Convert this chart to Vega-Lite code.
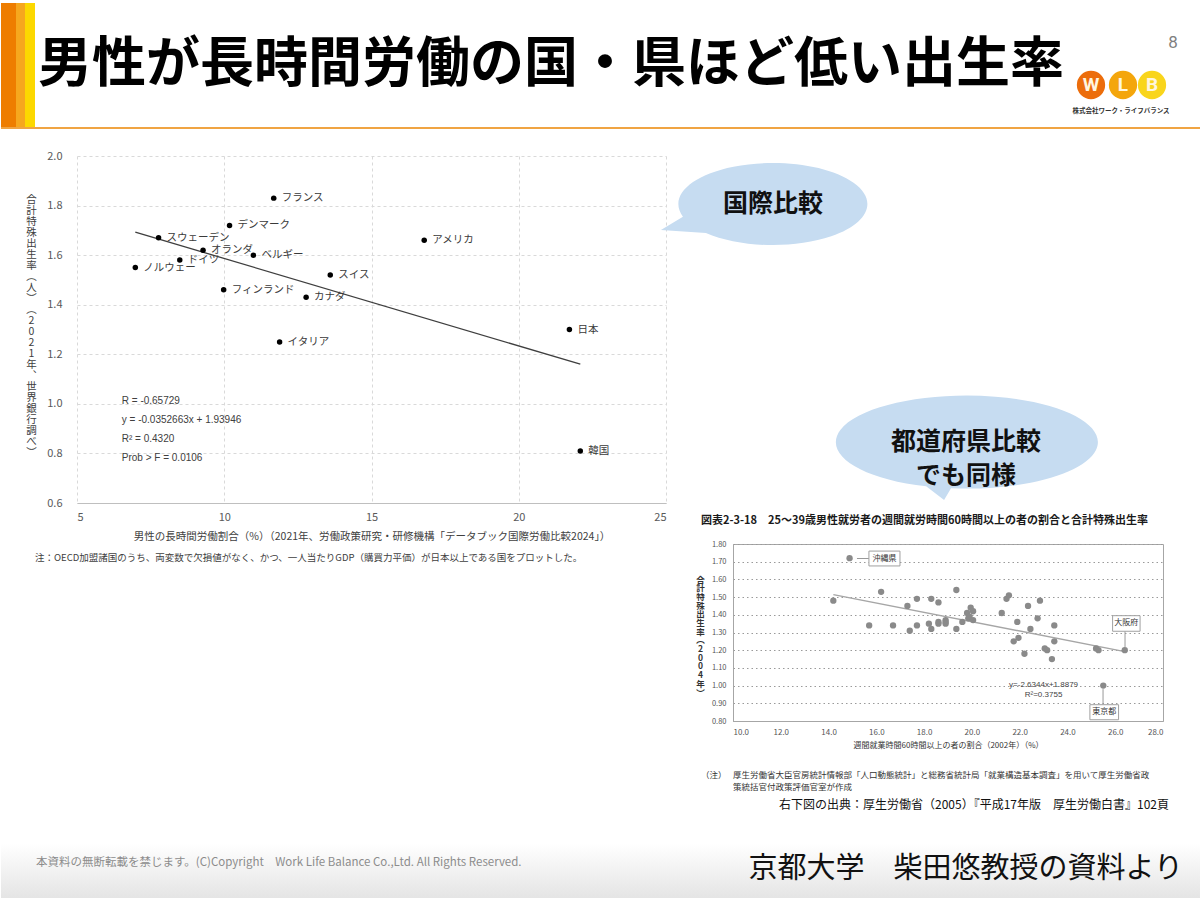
{
  "$schema": "https://vega.github.io/schema/vega-lite/v6.json",
  "padding": 0,
  "background": "white",
  "bounds": "flush",
  "align": "each",
  "columns": 3,
  "spacing": {"row": 28, "column": 67},
  "config": {
    "view": {"stroke": null},
    "font": "Noto Sans CJK JP",
    "axis": {"labelFont": "Noto Sans CJK JP", "titleFont": "Noto Sans CJK JP"},
    "title": {"font": "Noto Sans CJK JP"}
  },
  "datasets": {
    "oecd": [
      {"country": "フランス", "hours": 11.68, "tfr": 1.83},
      {"country": "デンマーク", "hours": 10.18, "tfr": 1.72},
      {"country": "スウェーデン", "hours": 7.77, "tfr": 1.67},
      {"country": "オランダ", "hours": 9.28, "tfr": 1.62},
      {"country": "ベルギー", "hours": 10.99, "tfr": 1.60},
      {"country": "ドイツ", "hours": 8.49, "tfr": 1.58},
      {"country": "ノルウェー", "hours": 6.98, "tfr": 1.55},
      {"country": "フィンランド", "hours": 9.98, "tfr": 1.46},
      {"country": "スイス", "hours": 13.6, "tfr": 1.52},
      {"country": "カナダ", "hours": 12.78, "tfr": 1.43},
      {"country": "イタリア", "hours": 11.88, "tfr": 1.25},
      {"country": "アメリカ", "hours": 16.79, "tfr": 1.66},
      {"country": "日本", "hours": 21.72, "tfr": 1.30},
      {"country": "韓国", "hours": 22.09, "tfr": 0.81}
    ],
    "oecdFit": [
      {"hours": 6.98, "tfr": 1.693},
      {"hours": 22.09, "tfr": 1.160}
    ],
    "pref": [
      {"pref": "沖縄県", "share": 14.88, "tfr": 1.72},
      {"pref": "", "share": 14.2, "tfr": 1.48},
      {"pref": "", "share": 15.7, "tfr": 1.34},
      {"pref": "", "share": 16.2, "tfr": 1.53},
      {"pref": "", "share": 16.7, "tfr": 1.34},
      {"pref": "", "share": 17.3, "tfr": 1.45},
      {"pref": "", "share": 17.4, "tfr": 1.31},
      {"pref": "", "share": 17.7, "tfr": 1.49},
      {"pref": "", "share": 17.7, "tfr": 1.34},
      {"pref": "", "share": 18.2, "tfr": 1.35},
      {"pref": "", "share": 18.3, "tfr": 1.49},
      {"pref": "", "share": 18.3, "tfr": 1.32},
      {"pref": "", "share": 18.6, "tfr": 1.47},
      {"pref": "", "share": 18.6, "tfr": 1.35},
      {"pref": "", "share": 18.6, "tfr": 1.36},
      {"pref": "", "share": 18.9, "tfr": 1.37},
      {"pref": "", "share": 18.9, "tfr": 1.36},
      {"pref": "", "share": 18.9, "tfr": 1.35},
      {"pref": "", "share": 19.35, "tfr": 1.54},
      {"pref": "", "share": 19.35, "tfr": 1.32},
      {"pref": "", "share": 19.6, "tfr": 1.36},
      {"pref": "", "share": 19.8, "tfr": 1.41},
      {"pref": "", "share": 19.95, "tfr": 1.44},
      {"pref": "", "share": 20.05, "tfr": 1.42},
      {"pref": "", "share": 19.85, "tfr": 1.38},
      {"pref": "", "share": 19.9, "tfr": 1.39},
      {"pref": "", "share": 20.05, "tfr": 1.37},
      {"pref": "", "share": 21.25, "tfr": 1.41},
      {"pref": "", "share": 21.45, "tfr": 1.49},
      {"pref": "", "share": 21.55, "tfr": 1.51},
      {"pref": "", "share": 21.9, "tfr": 1.36},
      {"pref": "", "share": 21.75, "tfr": 1.25},
      {"pref": "", "share": 21.95, "tfr": 1.27},
      {"pref": "", "share": 22.2, "tfr": 1.18},
      {"pref": "", "share": 22.35, "tfr": 1.45},
      {"pref": "", "share": 22.45, "tfr": 1.32},
      {"pref": "", "share": 22.75, "tfr": 1.38},
      {"pref": "", "share": 22.85, "tfr": 1.48},
      {"pref": "", "share": 23.05, "tfr": 1.21},
      {"pref": "", "share": 23.15, "tfr": 1.20},
      {"pref": "", "share": 23.35, "tfr": 1.15},
      {"pref": "", "share": 23.45, "tfr": 1.34},
      {"pref": "", "share": 23.45, "tfr": 1.25},
      {"pref": "", "share": 25.2, "tfr": 1.21},
      {"pref": "", "share": 25.3, "tfr": 1.20},
      {"pref": "大阪府", "share": 26.4, "tfr": 1.20},
      {"pref": "東京都", "share": 25.5, "tfr": 1.00}
    ],
    "prefFit": [
      {"share": 14.2, "tfr": 1.514},
      {"share": 26.4, "tfr": 1.192}
    ]
  },
  "concat": [
    {
      "width": 9,
      "height": 125,
      "layer": [
        {
          "data": {"values": [{}]},
          "mark": {"type": "rect", "color": "#ee7d00"},
          "encoding": {
            "x": {"datum": 0, "type": "quantitative", "scale": {"domain": [0, 9], "nice": false, "zero": false}, "axis": null},
            "x2": {"datum": 15},
            "y": {"datum": 0, "type": "quantitative", "scale": {"domain": [0, 125], "nice": false, "zero": false, "reverse": true}, "axis": null},
            "y2": {"datum": 125}
          }
        },
        {
          "data": {"values": [{}]},
          "mark": {"type": "rect", "color": "#f6a71e"},
          "encoding": {
            "x": {"datum": 15, "type": "quantitative"},
            "x2": {"datum": 24},
            "y": {"datum": 0, "type": "quantitative"},
            "y2": {"datum": 125}
          }
        },
        {
          "data": {"values": [{}]},
          "mark": {"type": "rect", "color": "#fcd800"},
          "encoding": {
            "x": {"datum": 24, "type": "quantitative"},
            "x2": {"datum": 34},
            "y": {"datum": 0, "type": "quantitative"},
            "y2": {"datum": 125}
          }
        },
        {
          "data": {"values": [{}]},
          "mark": {"type": "rule", "color": "#f0a443", "strokeWidth": 2},
          "encoding": {
            "x": {"datum": 0, "type": "quantitative"},
            "x2": {"datum": 1200},
            "y": {"datum": 125, "type": "quantitative"}
          }
        },
        {
          "data": {"values": [{}]},
          "mark": {"type": "text", "text": "男性が長時間労働の国・県ほど低い出生率", "fontSize": 54, "fontWeight": "bold", "align": "left", "baseline": "alphabetic", "color": "#000000"},
          "encoding": {
            "x": {"datum": 37, "type": "quantitative"},
            "y": {"datum": 79, "type": "quantitative"}
          }
        },
        {
          "data": {"values": [{}]},
          "mark": {"type": "text", "text": "8", "fontSize": 17, "font": "Roboto", "align": "center", "baseline": "middle", "color": "#7f7f7f"},
          "encoding": {
            "x": {"datum": 1172, "type": "quantitative"},
            "y": {"datum": 40, "type": "quantitative"}
          }
        },
        {
          "data": {"values": [{}]},
          "mark": {"type": "circle", "size": 800, "color": "#ec6d0b", "opacity": 1},
          "encoding": {
            "x": {"datum": 1090, "type": "quantitative"},
            "y": {"datum": 82, "type": "quantitative"}
          }
        },
        {
          "data": {"values": [{}]},
          "mark": {"type": "circle", "size": 800, "color": "#f4a60c", "opacity": 1},
          "encoding": {
            "x": {"datum": 1122, "type": "quantitative"},
            "y": {"datum": 82, "type": "quantitative"}
          }
        },
        {
          "data": {"values": [{}]},
          "mark": {"type": "circle", "size": 800, "color": "#f9d51c", "opacity": 1},
          "encoding": {
            "x": {"datum": 1151, "type": "quantitative"},
            "y": {"datum": 82, "type": "quantitative"}
          }
        },
        {
          "data": {"values": [{}]},
          "mark": {"type": "text", "text": "W", "fontSize": 19, "fontWeight": "bold", "font": "Roboto", "align": "center", "baseline": "middle", "color": "#fff6e0"},
          "encoding": {
            "x": {"datum": 1090, "type": "quantitative"},
            "y": {"datum": 82, "type": "quantitative"}
          }
        },
        {
          "data": {"values": [{}]},
          "mark": {"type": "text", "text": "L", "fontSize": 19, "fontWeight": "bold", "font": "Roboto", "align": "center", "baseline": "middle", "color": "#fff6e0"},
          "encoding": {
            "x": {"datum": 1122, "type": "quantitative"},
            "y": {"datum": 82, "type": "quantitative"}
          }
        },
        {
          "data": {"values": [{}]},
          "mark": {"type": "text", "text": "B", "fontSize": 19, "fontWeight": "bold", "font": "Roboto", "align": "center", "baseline": "middle", "color": "#fff6e0"},
          "encoding": {
            "x": {"datum": 1151, "type": "quantitative"},
            "y": {"datum": 82, "type": "quantitative"}
          }
        },
        {
          "data": {"values": [{}]},
          "mark": {"type": "text", "text": "株式会社ワーク・ライフバランス", "fontSize": 6.5, "fontWeight": "bold", "align": "center", "baseline": "middle", "color": "#333333"},
          "encoding": {
            "x": {"datum": 1120, "type": "quantitative"},
            "y": {"datum": 108, "type": "quantitative"}
          }
        }
      ]
    },
    {"width": 589, "height": 1, "data": {"values": [{}]}, "mark": {"type": "point", "opacity": 0}},
    {"width": 430, "height": 1, "data": {"values": [{}]}, "mark": {"type": "point", "opacity": 0}},

    {"width": 9, "height": 1, "data": {"values": [{}]}, "mark": {"type": "point", "opacity": 0}},
    {
      "width": 589,
      "height": 347,
      "layer": [
        {
          "data": {"name": "oecdFit"},
          "mark": {"type": "line", "color": "#3f3f3f", "strokeWidth": 1.3},
          "encoding": {
            "x": {
              "field": "hours", "type": "quantitative",
              "scale": {"domain": [5, 25], "nice": false, "zero": false},
              "axis": {
                "values": [5, 10, 15, 20, 25], "tickCount": 5, "format": "d",
                "title": "男性の長時間労働割合（%）（2021年、労働政策研究・研修機構「データブック国際労働比較2024」）",
                "grid": true, "gridColor": "#d9d9d9", "gridDash": [3, 3], "gridWidth": 1,
                "ticks": false, "domain": true, "domainColor": "#bfbfbf",
                "labelColor": "#595959", "labelFontSize": 11, "labelPadding": 8,
                "titleFontSize": 10.5, "titleFontWeight": "normal", "titleColor": "#404040", "titlePadding": 9
              }
            },
            "y": {
              "field": "tfr", "type": "quantitative",
              "scale": {"domain": [0.6, 2.0], "nice": false, "zero": false},
              "axis": {
                "values": [0.6, 0.8, 1.0, 1.2, 1.4, 1.6, 1.8, 2.0], "tickCount": 8, "format": ".1f",
                "title": ["合", "計", "特", "殊", "出", "生", "率", "︵", "人", "︶", "︵", "2", "0", "2", "1", "年", "︑", "世", "界", "銀", "行", "調", "べ", "︶"],
                "titleAngle": 0, "titleAlign": "center", "titleBaseline": "top",
                "titleX": -46, "titleY": 38, "titleLineHeight": 11,
                "titleFontSize": 10.5, "titleFontWeight": "normal", "titleColor": "#404040",
                "grid": true, "gridColor": "#d9d9d9", "gridDash": [3, 3], "gridWidth": 1,
                "ticks": false, "domain": false, "labelOverlap": false,
                "labelColor": "#595959", "labelFontSize": 11, "labelPadding": 15
              }
            }
          }
        },
        {
          "data": {"name": "oecd"},
          "mark": {"type": "circle", "size": 30, "color": "#000000", "opacity": 1},
          "encoding": {
            "x": {"field": "hours", "type": "quantitative"},
            "y": {"field": "tfr", "type": "quantitative"}
          }
        },
        {
          "data": {"name": "oecd"},
          "mark": {"type": "text", "align": "left", "baseline": "middle", "dx": 8, "fontSize": 10.5, "color": "#3a3a3a"},
          "encoding": {
            "x": {"field": "hours", "type": "quantitative"},
            "y": {"field": "tfr", "type": "quantitative"},
            "text": {"field": "country"}
          }
        },
        {
          "data": {"values": [{}]},
          "mark": {"type": "text", "text": ["R = -0.65729", "y = -0.0352663x + 1.93946", "R² = 0.4320", "Prob > F = 0.0106"], "lineHeight": 19, "align": "left", "baseline": "top", "fontSize": 10, "font": "Liberation Sans", "color": "#404040"},
          "encoding": {
            "x": {"datum": 6.52, "type": "quantitative"},
            "y": {"datum": 1.033, "type": "quantitative"}
          }
        },
        {
          "data": {"values": [{}]},
          "mark": {"type": "text", "text": "注：OECD加盟諸国のうち、両変数で欠損値がなく、かつ、一人当たりGDP（購買力平価）が日本以上である国をプロットした。", "align": "left", "baseline": "middle", "fontSize": 9.5, "color": "#404040"},
          "encoding": {
            "x": {"datum": 3.574, "type": "quantitative"},
            "y": {"datum": 0.378, "type": "quantitative"}
          }
        },
        {
          "data": {"values": [{}]},
          "mark": {"type": "point", "shape": "M-0.952,0.133L-1.185,0.275L-0.709,0.306A1,0.434 0 1,0 -0.952,0.133Z", "size": 35721, "filled": true, "color": "#c6dcf1", "opacity": 1, "strokeWidth": 0},
          "encoding": {
            "x": {"datum": 28.63, "type": "quantitative"},
            "y": {"datum": 1.806, "type": "quantitative"}
          }
        },
        {
          "data": {"values": [{}]},
          "mark": {"type": "text", "text": "国際比較", "fontSize": 25, "fontWeight": "bold", "align": "center", "baseline": "middle", "color": "#111111"},
          "encoding": {
            "x": {"datum": 28.63, "type": "quantitative"},
            "y": {"datum": 1.806, "type": "quantitative"}
          }
        },
        {
          "data": {"values": [{}]},
          "mark": {"type": "point", "shape": "M-0.115,0.353L-0.168,0.443L-0.305,0.338A1,0.355 0 1,1 -0.115,0.353Z", "size": 68644, "filled": true, "color": "#c6dcf1", "opacity": 1, "strokeWidth": 0},
          "encoding": {
            "x": {"datum": 35.19, "type": "quantitative"},
            "y": {"datum": 0.846, "type": "quantitative"}
          }
        },
        {
          "data": {"values": [{}]},
          "mark": {"type": "text", "text": ["都道府県比較", "でも同様"], "lineHeight": 34, "fontSize": 25, "fontWeight": "bold", "align": "center", "baseline": "middle", "color": "#111111"},
          "encoding": {
            "x": {"datum": 35.19, "type": "quantitative"},
            "y": {"datum": 0.846, "type": "quantitative"}
          }
        }
      ]
    },
    {"width": 430, "height": 360, "data": {"values": [{}]}, "mark": {"type": "point", "opacity": 0}},

    {"width": 9, "height": 1, "data": {"values": [{}]}, "mark": {"type": "point", "opacity": 0}},
    {"width": 589, "height": 1, "data": {"values": [{}]}, "mark": {"type": "point", "opacity": 0}},
    {
      "width": 430,
      "height": 177,
      "view": {"stroke": "#a6a6a6", "strokeWidth": 1},
      "title": {"text": "図表2-3-18　25～39歳男性就労者の週間就労時間60時間以上の者の割合と合計特殊出生率", "anchor": "start", "frame": "group", "dx": -32, "offset": 3, "baseline": "bottom", "fontSize": 11, "fontWeight": "bold", "color": "#1a1a1a"},
      "layer": [
        {
          "data": {"name": "prefFit"},
          "mark": {"type": "line", "color": "#a6a6a6", "strokeWidth": 1.5},
          "encoding": {
            "x": {
              "field": "share", "type": "quantitative",
              "scale": {"domain": [10, 28], "nice": false, "zero": false},
              "axis": {
                "values": [10, 12, 14, 16, 18, 20, 22, 24, 26, 28], "tickCount": 10, "format": ".1f",
                "title": "週間就業時間60時間以上の者の割合（2002年）（%）",
                "grid": false, "ticks": false, "domainColor": "#a6a6a6", "labelOverlap": false,
                "labelColor": "#555555", "labelFontSize": 8, "labelPadding": 7,
                "titleFontSize": 8, "titleFontWeight": "normal", "titleColor": "#333333", "titlePadding": 5
              }
            },
            "y": {
              "field": "tfr", "type": "quantitative",
              "scale": {"domain": [0.8, 1.8], "nice": false, "zero": false},
              "axis": {
                "values": [0.8, 0.9, 1.0, 1.1, 1.2, 1.3, 1.4, 1.5, 1.6, 1.7, 1.8], "tickCount": 11, "format": ".2f",
                "title": ["合", "計", "特", "殊", "出", "生", "率", "︵", "2", "0", "0", "4", "年", "︶"],
                "titleAngle": 0, "titleAlign": "center", "titleBaseline": "top",
                "titleX": -33, "titleY": 31, "titleLineHeight": 8.7,
                "titleFontSize": 8.5, "titleFontWeight": "bold", "titleColor": "#333333",
                "grid": true, "gridColor": "#9a9a9a", "gridDash": [1.5, 3], "gridWidth": 1,
                "ticks": false, "domainColor": "#a6a6a6", "labelOverlap": false,
                "labelColor": "#555555", "labelFontSize": 7.5, "labelPadding": 7
              }
            }
          }
        },
        {
          "data": {"name": "pref"},
          "mark": {"type": "circle", "size": 40, "color": "#8a8a8a", "opacity": 1},
          "encoding": {
            "x": {"field": "share", "type": "quantitative"},
            "y": {"field": "tfr", "type": "quantitative"}
          }
        },
        {
          "data": {"values": [{}]},
          "mark": {"type": "rule", "color": "#999999", "strokeWidth": 1},
          "encoding": {
            "x": {"datum": 15.19, "type": "quantitative"},
            "x2": {"datum": 15.69},
            "y": {"datum": 1.718, "type": "quantitative"}
          }
        },
        {
          "data": {"values": [{}]},
          "mark": {"type": "rule", "color": "#999999", "strokeWidth": 1},
          "encoding": {
            "x": {"datum": 26.41, "type": "quantitative"},
            "y": {"datum": 1.307, "type": "quantitative"},
            "y2": {"datum": 1.218}
          }
        },
        {
          "data": {"values": [{}]},
          "mark": {"type": "rule", "color": "#999999", "strokeWidth": 1},
          "encoding": {
            "x": {"datum": 25.49, "type": "quantitative"},
            "y": {"datum": 0.98, "type": "quantitative"},
            "y2": {"datum": 0.892}
          }
        },
        {
          "data": {"values": [{}]},
          "mark": {"type": "rect", "fill": "#ffffff", "stroke": "#a0a0a0", "strokeWidth": 1},
          "encoding": {
            "x": {"datum": 15.69, "type": "quantitative"},
            "x2": {"datum": 16.99},
            "y": {"datum": 1.760, "type": "quantitative"},
            "y2": {"datum": 1.676}
          }
        },
        {
          "data": {"values": [{}]},
          "mark": {"type": "rect", "fill": "#ffffff", "stroke": "#a0a0a0", "strokeWidth": 1},
          "encoding": {
            "x": {"datum": 25.89, "type": "quantitative"},
            "x2": {"datum": 27.04},
            "y": {"datum": 1.395, "type": "quantitative"},
            "y2": {"datum": 1.307}
          }
        },
        {
          "data": {"values": [{}]},
          "mark": {"type": "rect", "fill": "#ffffff", "stroke": "#a0a0a0", "strokeWidth": 1},
          "encoding": {
            "x": {"datum": 24.94, "type": "quantitative"},
            "x2": {"datum": 26.14},
            "y": {"datum": 0.892, "type": "quantitative"},
            "y2": {"datum": 0.807}
          }
        },
        {
          "data": {"values": [{}]},
          "mark": {"type": "text", "text": "沖縄県", "fontSize": 8, "align": "center", "baseline": "middle", "color": "#333333"},
          "encoding": {
            "x": {"datum": 16.34, "type": "quantitative"},
            "y": {"datum": 1.718, "type": "quantitative"}
          }
        },
        {
          "data": {"values": [{}]},
          "mark": {"type": "text", "text": "大阪府", "fontSize": 8, "align": "center", "baseline": "middle", "color": "#333333"},
          "encoding": {
            "x": {"datum": 26.46, "type": "quantitative"},
            "y": {"datum": 1.351, "type": "quantitative"}
          }
        },
        {
          "data": {"values": [{}]},
          "mark": {"type": "text", "text": "東京都", "fontSize": 8, "align": "center", "baseline": "middle", "color": "#333333"},
          "encoding": {
            "x": {"datum": 25.54, "type": "quantitative"},
            "y": {"datum": 0.849, "type": "quantitative"}
          }
        },
        {
          "data": {"values": [{}]},
          "mark": {"type": "text", "text": ["y=-2.6344x+1.8879", "R²=0.3755"], "lineHeight": 10, "fontSize": 8, "font": "Liberation Sans", "align": "center", "baseline": "middle", "color": "#444444"},
          "encoding": {
            "x": {"datum": 23.0, "type": "quantitative"},
            "y": {"datum": 1.002, "type": "quantitative"}
          }
        },
        {
          "data": {"values": [{}]},
          "mark": {"type": "text", "text": "（注）", "fontSize": 8.5, "align": "left", "baseline": "top", "color": "#333333"},
          "encoding": {
            "x": {"datum": 8.66, "type": "quantitative"},
            "y": {"datum": 0.515, "type": "quantitative"}
          }
        },
        {
          "data": {"values": [{}]},
          "mark": {"type": "text", "text": ["厚生労働省大臣官房統計情報部「人口動態統計」と総務省統計局「就業構造基本調査」を用いて厚生労働省政", "策統括官付政策評価官室が作成"], "lineHeight": 12, "fontSize": 8.5, "align": "left", "baseline": "top", "color": "#333333"},
          "encoding": {
            "x": {"datum": 10.0, "type": "quantitative"},
            "y": {"datum": 0.515, "type": "quantitative"}
          }
        },
        {
          "data": {"values": [{}]},
          "mark": {"type": "text", "text": "右下図の出典：厚生労働省（2005）『平成17年版　厚生労働白書』102頁", "fontSize": 12, "align": "right", "baseline": "middle", "color": "#111111"},
          "encoding": {
            "x": {"datum": 28.25, "type": "quantitative"},
            "y": {"datum": 0.325, "type": "quantitative"}
          }
        }
      ]
    },

    {"width": 9, "height": 1, "data": {"values": [{}]}, "mark": {"type": "point", "opacity": 0}},
    {"width": 589, "height": 1, "data": {"values": [{}]}, "mark": {"type": "point", "opacity": 0}},
    {"width": 430, "height": 67, "data": {"values": [{}]}, "mark": {"type": "point", "opacity": 0}},

    {
      "width": 9,
      "height": 57,
      "layer": [
        {
          "data": {"values": [{}]},
          "mark": {"type": "rect", "color": {"gradient": "linear", "x1": 0, "y1": 0, "x2": 0, "y2": 1, "stops": [{"offset": 0, "color": "#ffffff"}, {"offset": 1, "color": "#e3e3e3"}]}},
          "encoding": {
            "x": {"datum": 0, "type": "quantitative", "scale": {"domain": [0, 9], "nice": false, "zero": false}, "axis": null},
            "x2": {"datum": 1200},
            "y": {"datum": 0, "type": "quantitative", "scale": {"domain": [0, 57], "nice": false, "zero": false, "reverse": true}, "axis": null},
            "y2": {"datum": 57}
          }
        },
        {
          "data": {"values": [{}]},
          "mark": {"type": "rule", "color": "#c4c4c4", "strokeWidth": 2},
          "encoding": {
            "x": {"datum": 0, "type": "quantitative"},
            "x2": {"datum": 1200},
            "y": {"datum": 56, "type": "quantitative"}
          }
        },
        {
          "data": {"values": [{}]},
          "mark": {"type": "text", "text": "本資料の無断転載を禁じます。(C)Copyright　Work Life Balance Co.,Ltd. All Rights Reserved.", "fontSize": 11.5, "align": "left", "baseline": "middle", "color": "#8c8c8c"},
          "encoding": {
            "x": {"datum": 35, "type": "quantitative"},
            "y": {"datum": 19, "type": "quantitative"}
          }
        },
        {
          "data": {"values": [{}]},
          "mark": {"type": "text", "text": "京都大学　柴田悠教授の資料より", "fontSize": 29, "align": "right", "baseline": "middle", "color": "#111111"},
          "encoding": {
            "x": {"datum": 1182, "type": "quantitative"},
            "y": {"datum": 25, "type": "quantitative"}
          }
        }
      ]
    },
    {"width": 589, "height": 1, "data": {"values": [{}]}, "mark": {"type": "point", "opacity": 0}},
    {"width": 430, "height": 1, "data": {"values": [{}]}, "mark": {"type": "point", "opacity": 0}}
  ]
}
